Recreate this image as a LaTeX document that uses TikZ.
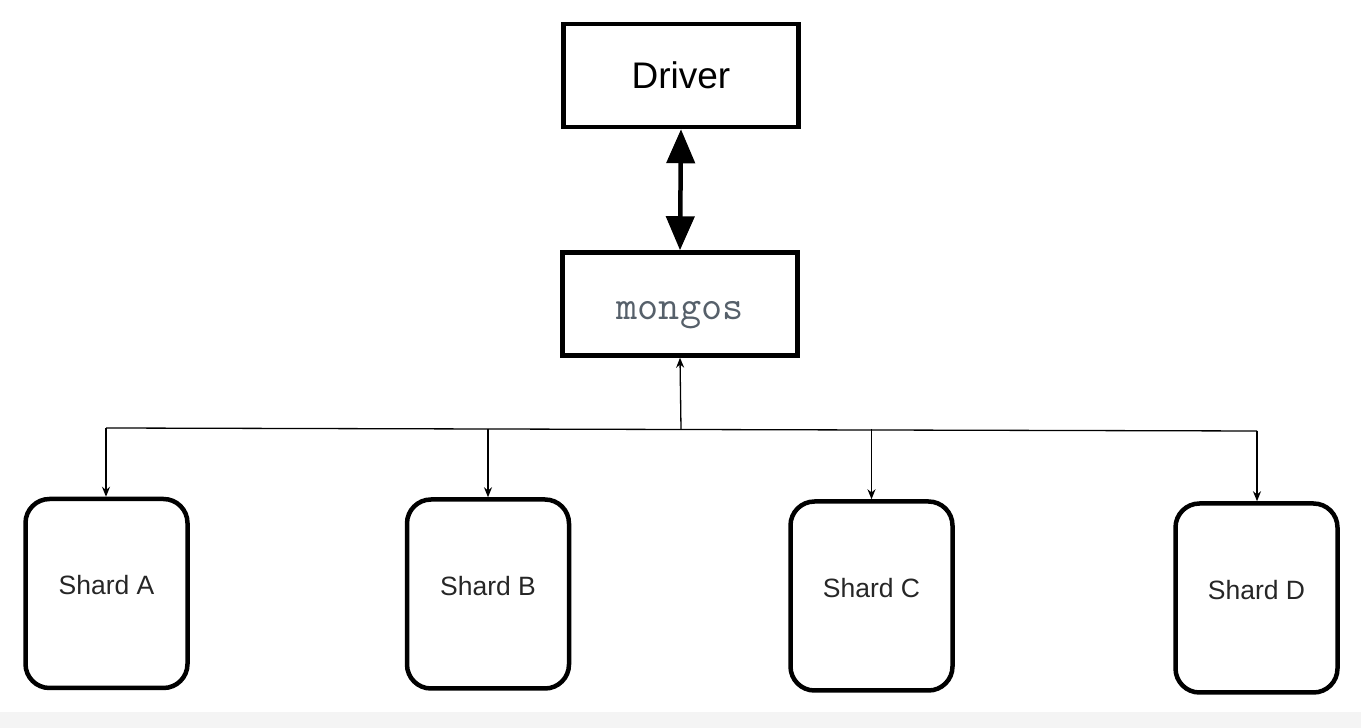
\documentclass[tikz,border=0pt]{standalone}
\usepackage{fontspec}
\setmainfont{Liberation Sans}
\usetikzlibrary{arrows.meta}
\definecolor{monocol}{HTML}{56606A}
\definecolor{bandcol}{HTML}{F4F4F4}
\newcommand{\placetext}[2]{\raisebox{#1}[0pt][0pt]{#2}}
\begin{document}
\begin{tikzpicture}[x=1pt,y=1pt,
  sqbox/.style={draw, line width=4.5pt, minimum width=235pt, minimum height=103pt, inner sep=0pt},
  shardbox/.style={draw, line width=4.5pt, rounded corners=24pt, minimum width=162pt, minimum height=189pt, inner sep=0pt, font=\fontsize{26.5}{30}\selectfont, text=black!85},
  thin/.style={line width=1.3pt},
  smallarrow/.style={thin, -{Stealth[length=10pt,width=8pt]}}
]
\useasboundingbox (0,0) rectangle (1361,728);
\fill[bandcol] (0,0) rectangle (1361,16);
\node[sqbox, font=\fontsize{37}{42}\selectfont] (drv) at (681,652.5) {\placetext{-13.5pt}{Driver}};
\node[sqbox, font=\ttfamily\fontsize{41}{46}\selectfont, text=monocol] (mgs) at (680,424) {\placetext{-16pt}{mongos}};
\node[shardbox] (sa) at (106.5,134.5) {\placetext{-1.5pt}{Shard A}};
\node[shardbox] (sb) at (488,134) {\placetext{-1.5pt}{Shard B}};
\node[shardbox] (sc) at (871.5,132) {\placetext{-1.5pt}{Shard C}};
\node[shardbox] (sd) at (1256.5,130) {\placetext{-1.5pt}{Shard D}};
\draw[line width=4.5pt, {Triangle[length=34pt,width=28pt]}-{Triangle[length=34pt,width=28pt]}] (drv.south) -- (mgs.north);
\coordinate (bc) at (681,299);
\coordinate (ba) at (106,300);
\coordinate (bd) at (1257,297);
\draw[thin] (ba) -- (bd);
\draw[smallarrow] (bc) -- (mgs.south);
\draw[smallarrow] (ba) -- (sa.north -| ba);
\draw[smallarrow] (sb.north |- bc) -- (sb.north);
\draw[smallarrow] (sc.north |- bc) -- (sc.north);
\draw[smallarrow] (bd) -- (sd.north -| bd);
\end{tikzpicture}
\end{document}
